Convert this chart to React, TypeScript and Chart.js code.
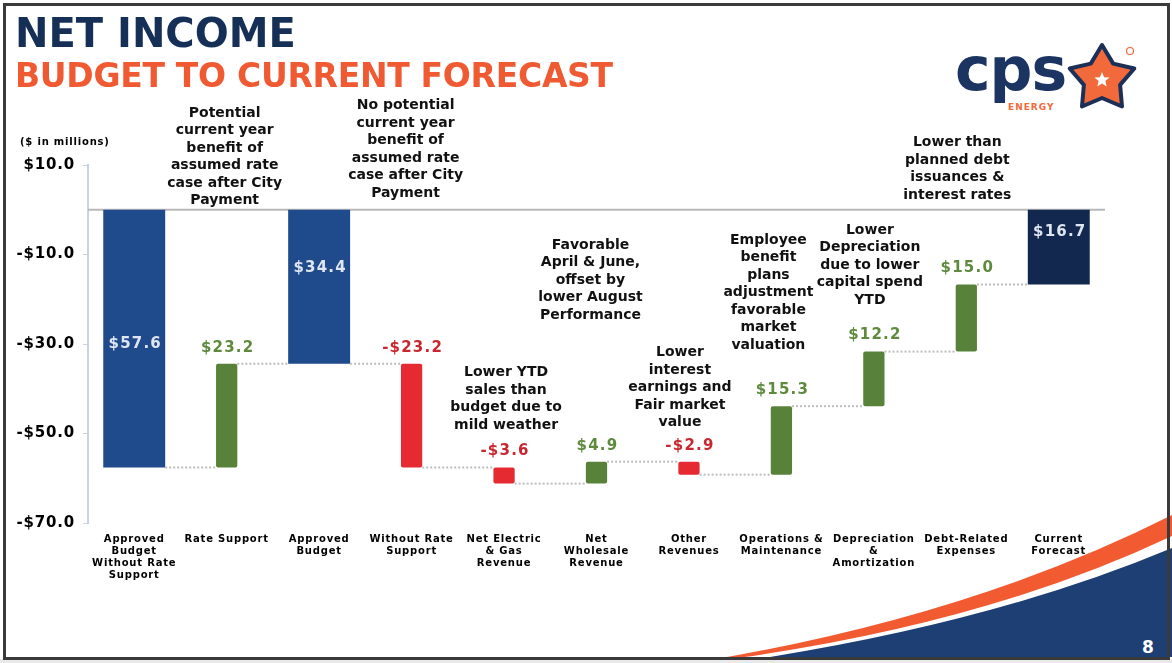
import React, { useEffect, useRef } from "react";
import { Chart, registerables } from "chart.js";

Chart.register(...registerables);

// ---------- data ----------
const categories: string[][] = [
  ["Approved", "Budget", "Without Rate", "Support"],
  ["Rate Support"],
  ["Approved", "Budget"],
  ["Without Rate", "Support"],
  ["Net Electric", "& Gas", "Revenue"],
  ["Net", "Wholesale", "Revenue"],
  ["Other", "Revenues"],
  ["Operations &", "Maintenance"],
  ["Depreciation", "&", "Amortization"],
  ["Debt-Related", "Expenses"],
  ["Current", "Forecast"],
];
const values: number[] = [-57.6, 23.2, -34.4, -23.2, -3.6, 4.9, -2.9, 15.3, 12.2, 15.0, -16.7];
const kinds: string[] = ["total", "delta", "total", "delta", "delta", "delta", "delta", "delta", "delta", "delta", "total"];
const yTicks: number[] = [10, -10, -30, -50, -70];
const notes: (string[] | null)[] = [
  null,
  ["Potential", "current year", "benefit of", "assumed rate", "case after City", "Payment"],
  null,
  ["No potential", "current year", "benefit of", "assumed rate", "case after City", "Payment"],
  ["Lower YTD", "sales than", "budget due to", "mild weather"],
  ["Favorable", "April & June,", "offset by", "lower August", "Performance"],
  ["Lower", "interest", "earnings and", "Fair market", "value"],
  ["Employee", "benefit", "plans", "adjustment", "favorable", "market", "valuation"],
  ["Lower", "Depreciation", "due to lower", "capital spend", "YTD"],
  ["Lower than", "planned debt", "issuances &", "interest rates"],
  null,
];

// ---------- layout (not data) ----------
const noteAnchor: (number | null)[] = [null, 2.0, null, 3.7, -48.1, -23.5, -47.6, -30.2, -20.2, 3.3, null];
const noteDx: number[] = [0, -2, 0, -6, 2, -6, -9, -13, -4, -9, 0];
const totalLabelAt: (number | null)[] = [-30, null, -13, null, null, null, null, null, null, null, -5];

const BLUE = "#1f4a8b";
const NAVY = "#13284f";
const GREEN = "#58813a";
const RED = "#e52a32";

function buildSeries() {
  const totals: ([number, number] | null)[] = [];
  const deltas: ([number, number] | null)[] = [];
  const ends: number[] = [];
  let run = 0;
  values.forEach((v, i) => {
    if (kinds[i] === "total") {
      totals.push([0, v]);
      deltas.push(null);
      run = v;
    } else {
      totals.push(null);
      deltas.push([run, run + v]);
      run = run + v;
    }
    ends.push(run);
  });
  return { totals, deltas, ends };
}

const fmtMoney = (v: number) => (v < 0 ? "-" : "") + "$" + Math.abs(v).toFixed(1);

function starPoints(cx: number, cy: number, ro: number, ri: number) {
  const pts: string[] = [];
  for (let k = 0; k < 10; k++) {
    const a = (-90 + k * 36) * (Math.PI / 180);
    const r = k % 2 === 0 ? ro : ri;
    pts.push((cx + r * Math.cos(a)).toFixed(1) + "," + (cy + r * Math.sin(a)).toFixed(1));
  }
  return pts.join(" ");
}

export default function App() {
  const canvasRef = useRef<HTMLCanvasElement | null>(null);

  useEffect(() => {
    document.body.style.margin = "0";
    const canvas = canvasRef.current;
    if (!canvas) return;
    const { totals, deltas, ends } = buildSeries();

    const plugin = {
      id: "waterfallExtras",
      beforeDraw(chart: any) {
        chart.ctx.letterSpacing = "0.8px";
      },
      beforeDatasetsDraw(chart: any) {
        const { ctx, chartArea, scales } = chart;
        const y0 = scales.y.getPixelForValue(0);
        ctx.save();
        ctx.strokeStyle = "#b9b9b9";
        ctx.lineWidth = 2;
        ctx.beginPath();
        ctx.moveTo(chartArea.left, y0);
        ctx.lineTo(chartArea.right, y0);
        ctx.stroke();
        ctx.restore();
      },
      afterDatasetsDraw(chart: any) {
        const { ctx, scales } = chart;
        const yS = scales.y;
        const mTot = chart.getDatasetMeta(0).data;
        const mDel = chart.getDatasetMeta(1).data;
        const el = (i: number) => (kinds[i] === "total" ? mTot[i] : mDel[i]);
        ctx.save();
        // connectors
        ctx.strokeStyle = "#bdbdbd";
        ctx.lineWidth = 2;
        ctx.setLineDash([2, 2]);
        for (let i = 0; i < values.length - 1; i++) {
          const a = el(i);
          const b = el(i + 1);
          const y = yS.getPixelForValue(ends[i]);
          ctx.beginPath();
          ctx.moveTo(a.x + a.width / 2, y);
          ctx.lineTo(b.x - b.width / 2, y);
          ctx.stroke();
        }
        ctx.setLineDash([]);
        // value labels
        ctx.font = "bold 15px 'DejaVu Sans'";
        ctx.letterSpacing = "1.2px";
        ctx.textAlign = "center";
        ctx.textBaseline = "middle";
        values.forEach((v, i) => {
          const e = el(i);
          if (kinds[i] === "total") {
            ctx.fillStyle = "#dfe6f1";
            const at = totalLabelAt[i] ?? v / 2;
            ctx.fillText("$" + Math.abs(v).toFixed(1), e.x + 1, yS.getPixelForValue(at));
          } else {
            const d = deltas[i] as [number, number];
            const top = yS.getPixelForValue(Math.max(d[0], d[1]));
            ctx.fillStyle = v >= 0 ? "#5d8a3c" : "#c9262f";
            ctx.fillText(fmtMoney(v), e.x + 1, top - 16);
          }
        });
        // notes
        ctx.font = "bold 14px 'DejaVu Sans'";
        ctx.letterSpacing = "0px";
        ctx.fillStyle = "#111111";
        notes.forEach((lines, i) => {
          if (!lines) return;
          const anchor = noteAnchor[i] as number;
          const e = el(i);
          const yb = yS.getPixelForValue(anchor);
          lines.forEach((t, j) => {
            ctx.fillText(t, e.x + noteDx[i], yb - (lines.length - 1 - j) * 17.5);
          });
        });
        ctx.restore();
        ctx.letterSpacing = "0.8px";
      },
    };

    const chart = new Chart(canvas, {
      type: "bar",
      data: {
        labels: categories,
        datasets: [
          {
            label: "Totals",
            data: totals as any,
            backgroundColor: values.map((_, i) => (i === values.length - 1 ? NAVY : BLUE)),
            barPercentage: 0.67,
            categoryPercentage: 1,
            grouped: false,
          } as any,
          {
            label: "Changes",
            data: deltas as any,
            backgroundColor: values.map((v) => (v >= 0 ? GREEN : RED)),
            barPercentage: 0.23,
            categoryPercentage: 1,
            borderRadius: 2,
            borderSkipped: false,
            grouped: false,
          } as any,
        ],
      },
      options: {
        responsive: false,
        animation: false,
        layout: { padding: { left: 0, top: 165, right: 67, bottom: 0 } },
        plugins: {
          legend: { display: false },
          tooltip: { enabled: false },
          title: { display: false },
        },
        scales: {
          x: {
            grid: { display: false, drawTicks: false },
            border: { display: false },
            ticks: {
              autoSkip: false,
              maxRotation: 0,
              minRotation: 0,
              padding: 11,
              color: "#000",
              font: { family: "DejaVu Sans", size: 10, weight: "bold", lineHeight: 1.17 },
            },
            afterFit: (axis: any) => {
              axis.height = 140;
            },
          },
          y: {
            min: -70,
            max: 10,
            grid: {
              display: true,
              drawOnChartArea: false,
              drawTicks: true,
              tickLength: 5,
              color: "#c9d2e2",
            },
            border: { display: true, color: "#c9d2e2", width: 2 },
            afterBuildTicks: (axis: any) => {
              axis.ticks = yTicks.map((v) => ({ value: v }));
            },
            ticks: {
              padding: 8,
              color: "#000",
              font: { family: "DejaVu Sans", size: 15, weight: "bold" },
              callback: (v: any) => fmtMoney(Number(v)),
            },
            afterFit: (axis: any) => {
              axis.width = 88;
            },
          },
        },
      },
      plugins: [plugin],
    } as any);

    return () => chart.destroy();
  }, []);

  return (
    <div
      style={{
        position: "absolute",
        left: 0,
        top: 0,
        width: 1172,
        height: 663,
        overflow: "hidden",
        background: "#ffffff",
        fontFamily: "'DejaVu Sans', sans-serif",
      }}
    >
      <svg width={1172} height={663} style={{ position: "absolute", left: 0, top: 0 }}>
        <rect x={0} y={659} width={1172} height={4} fill="#e9e9e9" />
        <path d="M 770 657 Q 1000 620 1172 548 L 1172 657 Z" fill="#1d3f74" />
        <path d="M 727 657 Q 980 612 1172 515 L 1172 536 Q 990 622 745 657 Z" fill="#f25a32" />
        <text x={1148} y={653} fill="#ffffff" fontSize={17} fontWeight="bold" textAnchor="middle" fontFamily="DejaVu Sans">
          8
        </text>
        {/* logo */}
        <text x={955} y={90} fill="#1b3461" fontSize={60} fontWeight="bold" fontFamily="DejaVu Sans" letterSpacing={-1}>
          cps
        </text>
        <text x={1008} y={110} fill="#f26a3b" fontSize={9} fontWeight="bold" fontFamily="DejaVu Sans" letterSpacing={1}>
          ENERGY
        </text>
        <polygon points={starPoints(1102, 79, 34, 19)} fill="#f26a3b" stroke="#1c2f57" strokeWidth={4} strokeLinejoin="round" />
        <polygon points={starPoints(1102, 80, 8, 3.5)} fill="#ffffff" />
        <circle cx={1130} cy={51} r={3.5} fill="none" stroke="#f26a3b" strokeWidth={1.2} />
      </svg>
      <div
        style={{
          position: "absolute",
          left: 3,
          top: 3,
          width: 1167,
          height: 657,
          boxSizing: "border-box",
          border: "3px solid #3a3a3a",
        }}
      />
      <canvas ref={canvasRef} width={1172} height={663} style={{ position: "absolute", left: 0, top: 0 }} />
      <div
        style={{
          position: "absolute",
          left: 15,
          top: 13,
          fontSize: 40,
          lineHeight: "40px",
          fontWeight: "bold",
          color: "#152f56",
          whiteSpace: "nowrap",
        }}
      >
        NET INCOME
      </div>
      <div
        style={{
          position: "absolute",
          left: 15,
          top: 59,
          fontSize: 33,
          lineHeight: "33px",
          fontWeight: "bold",
          color: "#f05a32",
          letterSpacing: "-0.3px",
          whiteSpace: "nowrap",
        }}
      >
        BUDGET TO CURRENT FORECAST
      </div>
      <div
        style={{
          position: "absolute",
          left: 20,
          top: 135,
          fontSize: 10,
          lineHeight: "14px",
          fontWeight: "bold",
          color: "#000",
          letterSpacing: "0.8px",
          whiteSpace: "nowrap",
        }}
      >
        ($ in millions)
      </div>
    </div>
  );
}
